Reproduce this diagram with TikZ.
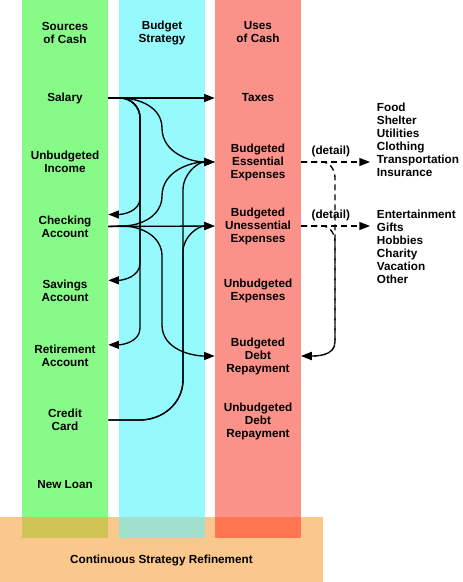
\documentclass[tikz,border=0pt]{standalone}
\usepackage{fontspec}
\setmainfont{Liberation Sans}
\usetikzlibrary{arrows.meta}
\definecolor{srcgreen}{RGB}{136,250,136}
\definecolor{stratcyan}{RGB}{150,250,252}
\definecolor{usered}{RGB}{250,146,138}
\definecolor{refineorange}{RGB}{250,200,140}
\definecolor{olivemix}{RGB}{207,196,85}
\definecolor{tealmix}{RGB}{162,224,206}
\definecolor{redmix}{RGB}{255,118,80}
\begin{document}
\begin{tikzpicture}[x=0.75pt, y=0.75pt,
    every node/.style={font=\bfseries\fontsize{8.8}{9.75}\selectfont},
    item/.style={minimum width=64.5pt, align=center, inner sep=0pt},
    list/.style={anchor=west, align=left, inner xsep=5pt, inner ysep=0pt},
    flow/.style={-{Triangle[length=8pt,width=6pt]}, line width=1pt},
    detail/.style={flow, dash pattern=on 4.5pt off 3pt}]
    \useasboundingbox (0,0) rectangle (462,-582);

    % Columns and refinement band
    \fill[srcgreen] (22,0) rectangle (108,-538);
    \fill[stratcyan] (119,0) rectangle (205,-538);
    \fill[usered] (215,0) rectangle (301,-538);
    \fill[refineorange] (0,-517) rectangle (323,-582);
    \fill[olivemix] (22,-517) rectangle (108,-538);
    \fill[tealmix] (119,-517) rectangle (205,-538);
    \fill[redmix] (215,-517) rectangle (301,-538);

    % Headings
    \node[item] (srchead) at (65,-32.5) {Sources\\of Cash};
    \node[item] (strathead) at (162,-32.5) {Budget\\Strategy};
    \node[item] (usehead) at (258,-32.5) {Uses\\of Cash};

    % Sources of cash
    \node[item] (salary) at (65,-98) {Salary};
    \node[item] (unbincome) at (65,-161.5) {Unbudgeted\\Income};
    \node[item] (checking) at (65,-226.5) {Checking\\Account};
    \node[item] (savings) at (65,-291) {Savings\\Account};
    \node[item] (retirement) at (65,-355.5) {Retirement\\Account};
    \node[item] (credit) at (65,-420) {Credit\\Card};
    \node[item] (newloan) at (65,-485) {New Loan};

    % Uses of cash
    \node[item] (taxes) at (258,-98) {Taxes};
    \node[item] (essential) at (258,-162) {Budgeted\\Essential\\Expenses};
    \node[item] (unessential) at (258,-226) {Budgeted\\Unessential\\Expenses};
    \node[item] (unbexp) at (258,-291) {Unbudgeted\\Expenses};
    \node[item] (debt) at (258,-356) {Budgeted\\Debt\\Repayment};
    \node[item] (unbdebt) at (258,-421) {Unbudgeted\\Debt\\Repayment};

    % Detail lists
    \node[list] (needs) at (370,-139.5) {Food\\Shelter\\Utilities\\Clothing\\Transportation\\Insurance};
    \node[list] (wants) at (370,-247) {Entertainment\\Gifts\\Hobbies\\Charity\\Vacation\\Other};

    \node (refine) at (161.5,-560) {Continuous Strategy Refinement};

    % Salary
    \draw[flow] (salary.east) -- (taxes.west);
    \draw[flow] (salary.east) -- (120,-98) to[out=0,in=90] (162,-128) to[out=-90,in=180] (essential.west);
    \draw[flow] (salary.east) -- (120,-98) to[out=0,in=90] (140,-118) -- (140,-198) to[out=-90,in=0] ([yshift=9pt]checking.east);
    \draw[flow] (salary.east) -- (120,-98) to[out=0,in=90] (140,-118) -- (140,-263) to[out=-90,in=0] ([yshift=8pt]savings.east);
    \draw[flow] (salary.east) -- (120,-98) to[out=0,in=90] (140,-118) -- (140,-328) to[out=-90,in=0] ([yshift=8pt]retirement.east);

    % Checking account
    \draw[flow] (checking.east) -- (unessential.west);
    \draw[flow] (checking.east) -- (122,-226) to[out=0,in=-90] (162,-196) to[out=90,in=180] (essential.west);
    \draw[flow] (checking.east) -- (122,-226) to[out=0,in=90] (162,-256) -- (162,-325) to[out=-90,in=180] (debt.west);

    % Credit card
    \draw[flow] (credit.east) -- (140,-420) to[out=0,in=-90] (183,-380) -- (183,-190) to[out=90,in=180] (essential.west);
    \draw[flow] (credit.east) -- (140,-420) to[out=0,in=-90] (183,-380) -- (183,-252) to[out=90,in=180] (unessential.west);

    % Details
    \draw[detail] (essential.east) -- node[above, pos=0.43] {(detail)} (essential.east -| needs.west);
    \draw[detail] (unessential.east) -- node[above, pos=0.43] {(detail)} (unessential.east -| wants.west);
    \draw[detail] (essential.east) -- (322,-162) to[out=0,in=90] (335,-178) -- (335,-342) to[out=-90,in=0] (debt.east);
    \draw[detail] (unessential.east) -- (322,-226) to[out=0,in=90] (335,-242) -- (335,-342) to[out=-90,in=0] (debt.east);
\end{tikzpicture}
\end{document}
